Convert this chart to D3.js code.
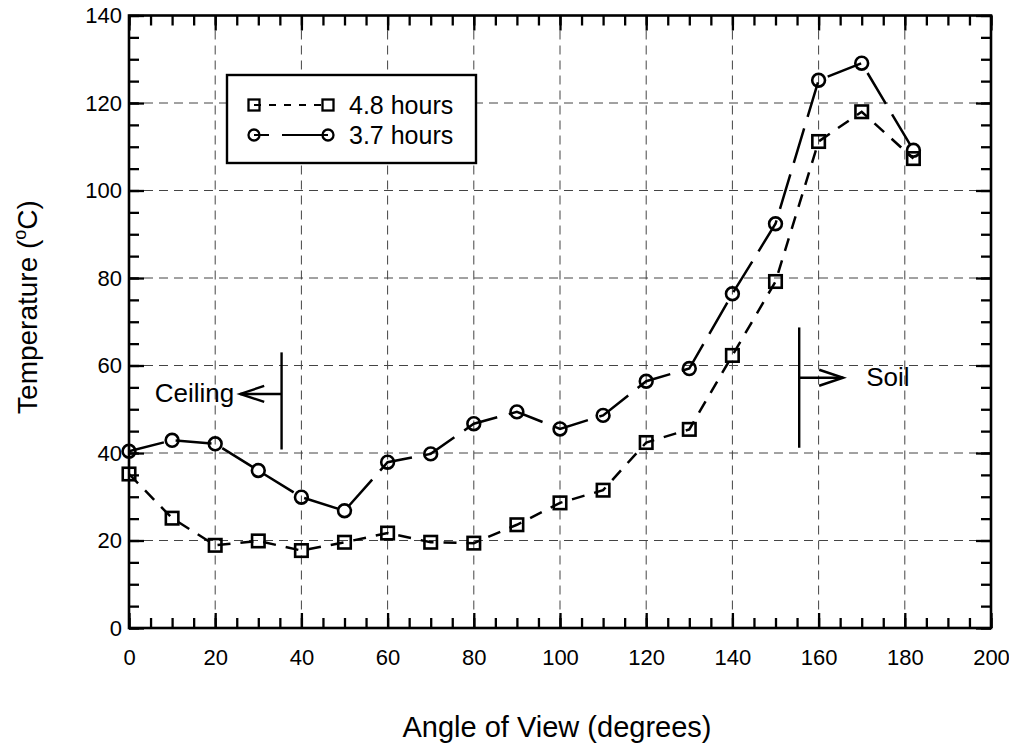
<!DOCTYPE html>
<html>
<head>
<meta charset="utf-8">
<script src="https://cdn.jsdelivr.net/npm/d3@7"></script>
<style>
  html, body { margin: 0; padding: 0; background: #fff; }
  svg { display: block; }
  text { font-family: "Liberation Sans", Arial, Helvetica, sans-serif; fill: #000; }
</style>
</head>
<body>
<svg id="chart" width="1009" height="744"></svg>
<script>
// ---- Data ----
const angles = [0, 10, 20, 30, 40, 50, 60, 70, 80, 90, 100, 110, 120, 130, 140, 150, 160, 170, 182];
const temp48 = [35.2, 25.1, 18.9, 19.9, 17.7, 19.6, 21.7, 19.6, 19.4, 23.6, 28.6, 31.5, 42.4, 45.4, 62.3, 79.2, 111.2, 118.0, 107.3];
const temp37 = [40.4, 42.9, 42.1, 36.0, 29.9, 26.8, 37.9, 39.8, 46.7, 49.4, 45.5, 48.6, 56.4, 59.3, 76.4, 92.4, 125.2, 129.1, 109.2];
const seriesNames = ["4.8 hours", "3.7 hours"];
const xTicks = [0, 20, 40, 60, 80, 100, 120, 140, 160, 180, 200];
const yTicks = [0, 20, 40, 60, 80, 100, 120, 140];
const xLabel = "Angle of View (degrees)";
const yLabel = "Temperature (";
// annotation anchors in data units
const ceilingNote = { text: "Ceiling", barX: 35.4, barY0: 40.8, barY1: 63, arrowTo: 25.8, arrowY: 53.5 };
const soilNote = { text: "Soil", barX: 155.5, barY0: 41.2, barY1: 68.7, arrowTo: 165.7, arrowY: 57.2 };

// ---- Layout ----
const svg = d3.select("#chart");
const pLeft = 129, pRight = 991, pTop = 15.5, pBottom = 628;
const x = d3.scaleLinear().domain([0, 200]).range([pLeft, pRight]);
const y = d3.scaleLinear().domain([0, 140]).range([pBottom, pTop]);

// grid
const grid = svg.append("g").attr("stroke", "#444").attr("stroke-width", 1).attr("stroke-dasharray", "9,6");
grid.selectAll("line.vx").data(xTicks.slice(1, -1)).join("line")
  .attr("x1", d => x(d)).attr("x2", d => x(d)).attr("y1", pTop).attr("y2", pBottom);
grid.selectAll("line.hy").data(yTicks.slice(1, -1)).join("line")
  .attr("x1", pLeft).attr("x2", pRight).attr("y1", d => y(d)).attr("y2", d => y(d));

// axes with inward ticks on all four sides
const xMinor = d3.range(0, 201, 5);
const yMinor = d3.range(0, 141, 5);
function styleAxis(g) {
  g.select(".domain").remove();
  g.selectAll(".tick line").attr("stroke", "#000").attr("stroke-width", 2.3);
}
const maj = 15, mnr = 10;
// bottom
svg.append("g").attr("transform", `translate(0,${pBottom})`)
  .call(d3.axisBottom(x).tickValues(xMinor).tickSize(-mnr).tickFormat(""))
  .call(styleAxis);
svg.append("g").attr("transform", `translate(0,${pBottom})`)
  .call(d3.axisBottom(x).tickValues(xTicks).tickSize(-maj).tickPadding(0).tickFormat(d3.format("d")))
  .call(styleAxis)
  .call(g => g.selectAll(".tick text").attr("font-size", 22).attr("dy", null).attr("y", 37)
    .attr("font-family", "Liberation Sans, Arial, sans-serif"));
// top
svg.append("g").attr("transform", `translate(0,${pTop})`)
  .call(d3.axisTop(x).tickValues(xMinor).tickSize(-mnr).tickFormat(""))
  .call(styleAxis);
svg.append("g").attr("transform", `translate(0,${pTop})`)
  .call(d3.axisTop(x).tickValues(xTicks).tickSize(-maj).tickFormat(""))
  .call(styleAxis);
// left
svg.append("g").attr("transform", `translate(${pLeft},0)`)
  .call(d3.axisLeft(y).tickValues(yMinor).tickSize(-mnr).tickFormat(""))
  .call(styleAxis);
svg.append("g").attr("transform", `translate(${pLeft},0)`)
  .call(d3.axisLeft(y).tickValues(yTicks).tickSize(-maj).tickPadding(0).tickFormat(d3.format("d")))
  .call(styleAxis)
  .call(g => g.selectAll(".tick text").attr("font-size", 22).attr("x", -7).attr("dy", "0.34em")
    .attr("font-family", "Liberation Sans, Arial, sans-serif"));
// right
svg.append("g").attr("transform", `translate(${pRight},0)`)
  .call(d3.axisRight(y).tickValues(yMinor).tickSize(-mnr).tickFormat(""))
  .call(styleAxis);
svg.append("g").attr("transform", `translate(${pRight},0)`)
  .call(d3.axisRight(y).tickValues(yTicks).tickSize(-maj).tickFormat(""))
  .call(styleAxis);

// frame
svg.append("rect").attr("x", pLeft).attr("y", pTop).attr("width", pRight - pLeft).attr("height", pBottom - pTop)
  .attr("fill", "none").attr("stroke", "#000").attr("stroke-width", 2.6);

// series
const s48 = angles.map((a, i) => ({ a, v: temp48[i] }));
const s37 = angles.map((a, i) => ({ a, v: temp37[i] }));
const line = d3.line().x(d => x(d.a)).y(d => y(d.v));

svg.append("path").datum(s48).attr("d", line).attr("fill", "none").attr("stroke", "#000")
  .attr("stroke-width", 2.5).attr("stroke-dasharray", "13,10");
svg.append("path").datum(s37).attr("d", line).attr("fill", "none").attr("stroke", "#000")
  .attr("stroke-width", 2.5).attr("stroke-dasharray", "36,12");

const sq = 12.5, cr = 6.4;
svg.append("g").selectAll("rect").data(s48).join("rect")
  .attr("x", d => x(d.a) - sq / 2).attr("y", d => y(d.v) - sq / 2)
  .attr("width", sq).attr("height", sq)
  .attr("fill", "none").attr("stroke", "#000").attr("stroke-width", 2.6);
svg.append("g").selectAll("circle").data(s37).join("circle")
  .attr("cx", d => x(d.a)).attr("cy", d => y(d.v)).attr("r", cr)
  .attr("fill", "none").attr("stroke", "#000").attr("stroke-width", 2.6);

// annotations
function note(n, textX, textAnchor) {
  const g = svg.append("g").attr("stroke", "#000").attr("stroke-width", 2.4).attr("fill", "none");
  g.append("line").attr("x1", x(n.barX)).attr("x2", x(n.barX)).attr("y1", y(n.barY0)).attr("y2", y(n.barY1));
  g.append("line").attr("x1", x(n.barX)).attr("x2", x(n.arrowTo)).attr("y1", y(n.arrowY)).attr("y2", y(n.arrowY));
  const dir = n.arrowTo < n.barX ? 1 : -1;
  const ax = x(n.arrowTo), ay = y(n.arrowY);
  g.append("path").attr("d", `M${ax + dir * 24},${ay - 8}L${ax},${ay}L${ax + dir * 24},${ay + 8}`);
  svg.append("text").attr("x", textX).attr("y", ay + 8).attr("font-size", 26)
    .attr("text-anchor", textAnchor).text(n.text);
}
note(ceilingNote, x(ceilingNote.arrowTo) - 6, "end");
note(soilNote, x(soilNote.arrowTo) + 23, "start");

// legend
const lg = svg.append("g");
lg.append("rect").attr("x", 227).attr("y", 75).attr("width", 249).attr("height", 88)
  .attr("fill", "#fff").attr("stroke", "#000").attr("stroke-width", 2.4);
const legendRows = [
  { name: seriesNames[0], yy: 105, dash: "7,8", shape: "sq" },
  { name: seriesNames[1], yy: 135, dash: "15,13,60", shape: "ci" }
];
legendRows.forEach(r => {
  lg.append("line").attr("x1", 254).attr("x2", 328).attr("y1", r.yy).attr("y2", r.yy)
    .attr("stroke", "#000").attr("stroke-width", 2.2).attr("stroke-dasharray", r.dash);
  [254, 328].forEach(cx => {
    if (r.shape === "sq") {
      lg.append("rect").attr("x", cx - 5.5).attr("y", r.yy - 5.5).attr("width", 11).attr("height", 11)
        .attr("fill", "none").attr("stroke", "#000").attr("stroke-width", 2.3);
    } else {
      lg.append("circle").attr("cx", cx).attr("cy", r.yy).attr("r", 5.5)
        .attr("fill", "none").attr("stroke", "#000").attr("stroke-width", 2.3);
    }
  });
  lg.append("text").attr("x", 349).attr("y", r.yy + 9).attr("font-size", 25).text(r.name);
});

// axis titles
svg.append("text").attr("x", 557).attr("y", 737).attr("text-anchor", "middle")
  .attr("font-size", 29).text(xLabel);
const yt = svg.append("text").attr("transform", "translate(37,307) rotate(-90)")
  .attr("text-anchor", "middle").attr("font-size", 28);
yt.append("tspan").text(yLabel);
yt.append("tspan").attr("font-size", 18).attr("dy", -11).text("o");
yt.append("tspan").attr("dy", 11).text("C)");
</script>
</body>
</html>
